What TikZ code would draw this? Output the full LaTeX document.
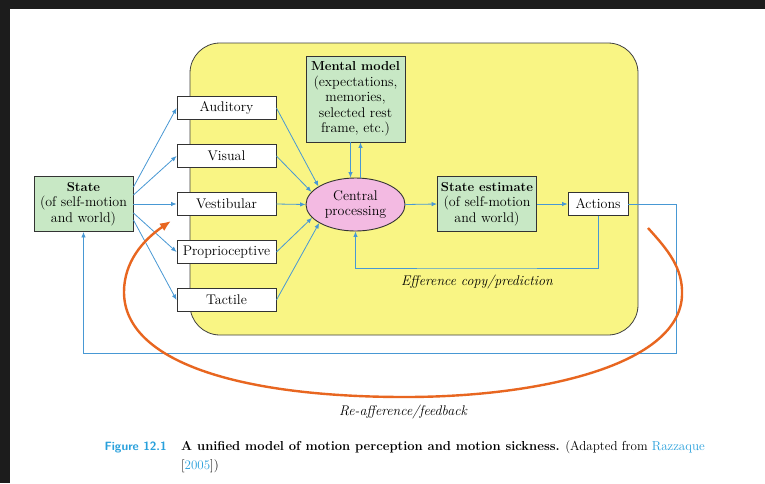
\documentclass[tikz,border=0pt]{standalone}
\usetikzlibrary{arrows.meta,shapes.geometric}
\definecolor{panelyellow}{RGB}{249,245,132}
\definecolor{boxgreen}{RGB}{200,232,197}
\definecolor{procpink}{RGB}{243,186,226}
\definecolor{lineblue}{RGB}{72,152,212}
\definecolor{looporange}{RGB}{232,102,32}
\definecolor{capblue}{RGB}{40,160,220}
\definecolor{frame}{RGB}{28,28,28}
\newcommand{\boxhead}[1]{{\fontsize{13}{15.5}\selectfont\bfseries #1}}
\begin{document}
\begin{tikzpicture}[x=1pt,y=-1pt,
    font=\fontsize{14}{15.5}\selectfont,
    sense/.style={draw=black!80,line width=0.9pt,fill=white,minimum width=99pt,minimum height=23pt,inner sep=1pt},
    greenbox/.style={sense,fill=boxgreen,minimum height=55pt,align=center},
    flow/.style={draw=lineblue,line width=0.8pt,-{Latex[length=5.5pt,width=4.5pt]}}]
    % page and dark screen border
    \fill[frame] (0,0) rectangle (765,483);
    \fill[white] (10,9) rectangle (765,483);
    \useasboundingbox (0,0) rectangle (765,483);
    % yellow panel
    \node[draw=black!75,line width=0.8pt,fill=panelyellow,rounded corners=30pt,minimum width=448pt,minimum height=292pt] (panel) at (414,189) {};
    % nodes
    \node[greenbox] (state) at (83.5,204) {\boxhead{State}\\(of self-motion\\and world)};
    \node[sense] (aud) at (226.5,108) {Auditory};
    \node[sense] (vis) at (226.5,156) {Visual};
    \node[sense] (ves) at (226.5,204) {Vestibular};
    \node[sense] (pro) at (226.5,252) {Proprioceptive};
    \node[sense] (tac) at (226.5,300) {Tactile};
    \node[greenbox,minimum height=86pt] (mm) at (355.5,99) {\boxhead{Mental model}\\(expectations,\\memories,\\selected rest\\frame, etc.)};
    \node[ellipse,draw=black!80,line width=0.9pt,fill=procpink,minimum width=99pt,minimum height=53pt,inner sep=0pt,align=center] (cp) at (355.5,204.5) {Central\\processing};
    \node[greenbox] (est) at (487,204) {\boxhead{State estimate}\\(of self-motion\\and world)};
    \node[sense,minimum width=60pt] (act) at (598,204) {Actions};
    \coordinate (eff) at (477,268);
    \coordinate (fb) at (676,353);
    % state to senses
    \draw[flow] ([yshift=17pt]state.east) -- (aud.west);
    \draw[flow] ([yshift=9pt]state.east) -- (vis.west);
    \draw[flow] (state.east) -- (ves.west);
    \draw[flow] ([yshift=-9pt]state.east) -- (pro.west);
    \draw[flow] ([yshift=-16pt]state.east) -- (tac.west);
    % senses to central processing
    \draw[flow] (aud.east) -- (cp.154);
    \draw[flow] (vis.east) -- (cp.164);
    \draw[flow] (ves.east) -- (cp.west);
    \draw[flow] (pro.east) -- (cp.197);
    \draw[flow] (tac.east) -- (cp.207);
    % mental model loop
    \draw[flow] ([xshift=-5pt]mm.south) -- ([xshift=-5pt]cp.north);
    \draw[flow] ([xshift=5pt]cp.north) -- ([xshift=5pt]mm.south);
    % estimate and actions
    \draw[flow] (cp.east) -- (est.west);
    \draw[flow] (est.east) -- (act.west);
    \draw[flow] (act.south) |- (eff) -| (cp.south);
    \draw[flow] (act.east) -| (fb) -| (state.south);
    \node[font=\itshape\fontsize{14}{15.5}\selectfont] (efflbl) at (477,282) {Efference copy/prediction};
    % re-afference loop
    \draw[looporange,line width=2.4pt,-{Latex[length=11pt,width=9pt]}] (648,228)
        .. controls (668,250) and (683,268) .. (682,295)
        .. controls (680,365) and (540,397) .. (405,397)
        .. controls (240,397) and (124,362) .. (124,292)
        .. controls (124,262) and (143,240) .. (171,221);
    \node[font=\itshape\fontsize{14}{15.5}\selectfont] (fblbl) at (403,412) {Re-afference/feedback};
    % caption
    \node[anchor=base west,text=capblue,font=\sffamily\bfseries\fontsize{12}{14}\selectfont] (fig) at (101,450) {Figure 12.1};
    \node[anchor=base west,inner sep=0pt,font=\fontsize{13}{15}\selectfont] (cap1) at (181,450) {\textbf{A unified model of motion perception and motion sickness.} (Adapted from \textcolor{capblue}{Razzaque}};
    \node[anchor=base west,inner sep=0pt,font=\fontsize{13}{15}\selectfont] (cap2) at (181,469) {[\textcolor{capblue}{2005}])};
\end{tikzpicture}
\end{document}
